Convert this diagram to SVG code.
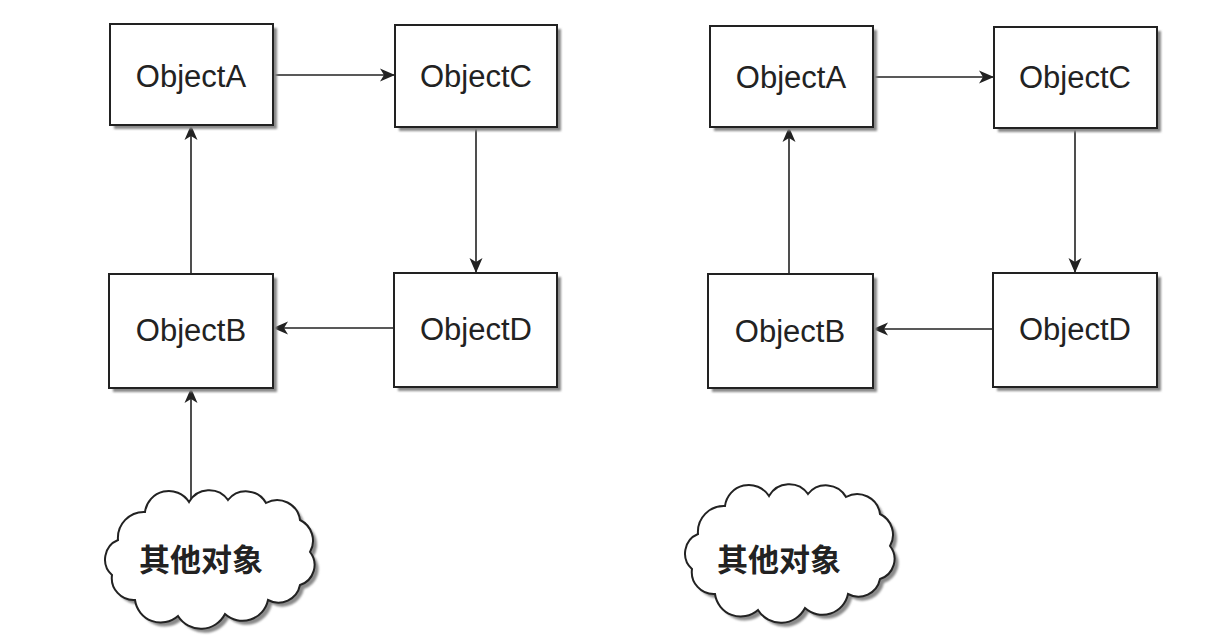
<svg xmlns="http://www.w3.org/2000/svg" width="1208" height="644" viewBox="0 0 1208 644">
<defs>
<style>
.box{fill:#fff;stroke:#222;stroke-width:2}
.shadow{fill:#8a8a8a;filter:url(#blur)}
.lbl{font-family:"Liberation Sans",Arial,sans-serif;font-size:31px;fill:#222;text-anchor:middle;dominant-baseline:central}
.cjk{font-family:"Noto Sans CJK SC",sans-serif;font-size:31px;font-weight:bold;fill:#222;text-anchor:middle;dominant-baseline:central}
.conn{stroke:#222;stroke-width:1.6;fill:none;marker-end:url(#arr)}
.cloud{fill:#fff;stroke:#222;stroke-width:2}
</style>
<filter id="blur" x="-10%" y="-10%" width="120%" height="120%"><feGaussianBlur stdDeviation="0.8"/></filter>
<marker id="arr" markerUnits="userSpaceOnUse" markerWidth="20" markerHeight="16" viewBox="-16 -8 20 16" refX="0" refY="0" orient="auto">
<path d="M0,0 L-15,-6.5 L-11,0 L-15,6.5 Z" fill="#222"/>
</marker>
<path id="cloudShape" d="M118,540 A26,26 0 0 1 145,512 A24,24 0 0 1 189,502 A23,23 0 0 1 228,500 A23,23 0 0 1 266,503 A23,23 0 0 1 300,520 A23,23 0 0 1 310,552 A21,21 0 0 1 300,585 A22,22 0 0 1 268,600 A26,26 0 0 1 225,614 A27,27 0 0 1 178,616 A26,26 0 0 1 135,600 A22,22 0 0 1 112,575 A21,21 0 0 1 118,540 Z"/>
</defs>
<rect width="1208" height="644" fill="#fff"/>

<g id="connectors">
<path class="conn" d="M273,75 H395"/>
<path class="conn" d="M476,127 V273"/>
<path class="conn" d="M394,328 H273"/>
<path class="conn" d="M191,274 V125"/>
<path class="conn" d="M191,500 V388"/>
<path class="conn" d="M873,77 H994"/>
<path class="conn" d="M1075,128 V273"/>
<path class="conn" d="M993,329 H873"/>
<path class="conn" d="M789,274 V127"/>
</g>

<g id="left-objectA">
<rect class="shadow" x="114" y="28" width="163" height="101"/>
<rect class="box" x="110" y="24" width="163" height="101"/>
<text class="lbl" x="191" y="76">ObjectA</text>
</g>
<g id="left-objectC">
<rect class="shadow" x="399" y="29" width="162" height="102"/>
<rect class="box" x="395" y="25" width="162" height="102"/>
<text class="lbl" x="476" y="76">ObjectC</text>
</g>
<g id="left-objectB">
<rect class="shadow" x="113" y="278" width="164" height="114"/>
<rect class="box" x="109" y="274" width="164" height="114"/>
<text class="lbl" x="191" y="330">ObjectB</text>
</g>
<g id="left-objectD">
<rect class="shadow" x="398" y="277" width="163" height="114"/>
<rect class="box" x="394" y="273" width="163" height="114"/>
<text class="lbl" x="476" y="329">ObjectD</text>
</g>
<g id="left-cloud">
<use href="#cloudShape" class="shadow" transform="translate(4,4)"/>
<use href="#cloudShape" class="cloud"/>
<text class="cjk" x="201" y="557">其他对象</text>
</g>

<g id="right-objectA">
<rect class="shadow" x="714" y="30" width="163" height="101"/>
<rect class="box" x="710" y="26" width="163" height="101"/>
<text class="lbl" x="791" y="77">ObjectA</text>
</g>
<g id="right-objectC">
<rect class="shadow" x="998" y="31" width="163" height="101"/>
<rect class="box" x="994" y="27" width="163" height="101"/>
<text class="lbl" x="1075" y="77">ObjectC</text>
</g>
<g id="right-objectB">
<rect class="shadow" x="712" y="278" width="165" height="114"/>
<rect class="box" x="708" y="274" width="165" height="114"/>
<text class="lbl" x="790" y="331">ObjectB</text>
</g>
<g id="right-objectD">
<rect class="shadow" x="997" y="277" width="164" height="114"/>
<rect class="box" x="993" y="273" width="164" height="114"/>
<text class="lbl" x="1075" y="329">ObjectD</text>
</g>
<g id="right-cloud">
<use href="#cloudShape" class="shadow" transform="translate(584,-2)"/>
<use href="#cloudShape" class="cloud" transform="translate(580,-6)"/>
<text class="cjk" x="779" y="557">其他对象</text>
</g>
</svg>
